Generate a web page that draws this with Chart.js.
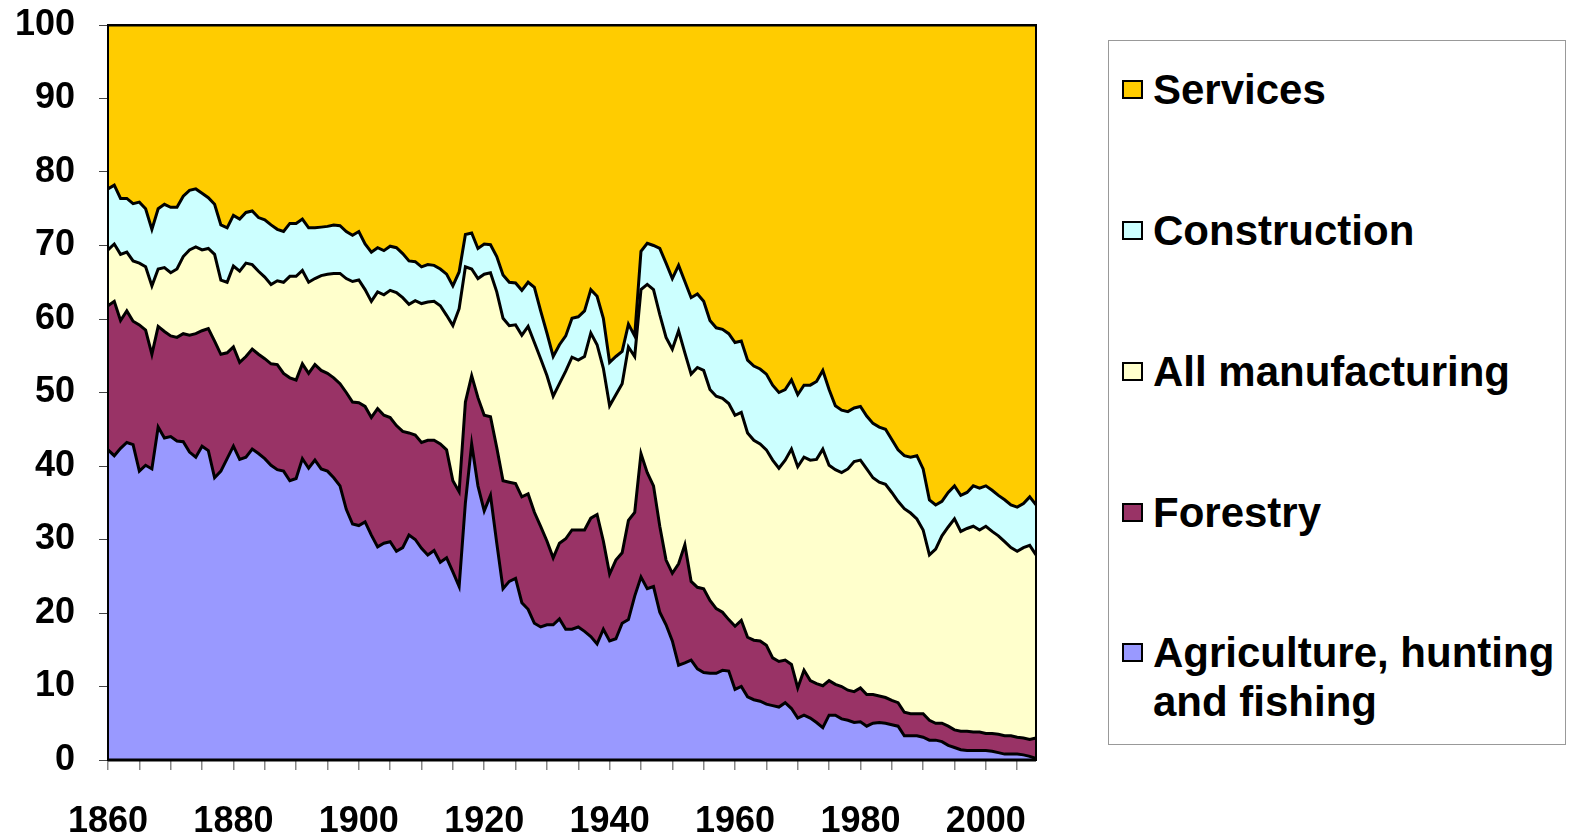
<!DOCTYPE html>
<html>
<head>
<meta charset="utf-8">
<script src="https://cdn.jsdelivr.net/npm/chart.js@4.4.1/dist/chart.umd.min.js"></script>
<style>
  body { margin: 0; background: #fff; }
  #wrap { position: relative; width: 1570px; height: 835px; }
  #legend {
    position: absolute; left: 1108px; top: 40px; width: 458px; height: 705px;
    box-sizing: border-box; border: 1px solid #999; background: #fff;
    font-family: "Liberation Sans", Arial, sans-serif; font-weight: bold; font-size: 42px; color: #000;
  }
  .item { position: absolute; left: 13px; line-height: 49px; white-space: pre-line; }
  .item .box { position: absolute; left: 0; top: 15px; width: 21px; height: 19px; box-sizing: border-box; border: 2px solid #000; }
  .item .txt { margin-left: 31px; display: block; }
</style>
</head>
<body>
<div id="wrap">
  <canvas id="share" width="1570" height="835"></canvas>
  <div id="legend"></div>
</div>
<script>
// years 1860 - 2008, one point per year
var years = [];
for (var yr = 1860; yr <= 2008; yr++) years.push(yr);

var xTickLabels = [1860, 1880, 1900, 1920, 1940, 1960, 1980, 2000];

// shares of employment, per cent
var agriculture = [
  42.2, 41.4, 42.4, 43.2, 42.9, 39.3, 40.1, 39.6, 45.3, 43.8,
  44.0, 43.4, 43.3, 41.9, 41.2, 42.7, 42.1, 38.4, 39.3, 41.0,
  42.7, 40.9, 41.2, 42.3, 41.7, 41.0, 40.1, 39.5, 39.3, 38.0,
  38.3, 41.0, 39.7, 40.8, 39.6, 39.3, 38.4, 37.3, 34.1, 32.1,
  31.9, 32.4, 30.6, 29.0, 29.5, 29.7, 28.4, 28.9, 30.6, 30.0,
  28.8, 27.9, 28.5, 26.9, 27.5, 25.6, 23.6, 35.0, 43.0, 37.3,
  33.9, 36.0, 29.5, 23.3, 24.3, 24.7, 21.4, 20.5, 18.6, 18.1,
  18.4, 18.4, 19.2, 17.8, 17.8, 18.1, 17.5, 16.8, 15.8, 17.8,
  16.2, 16.5, 18.6, 19.1, 22.3, 24.9, 23.3, 23.6, 20.1, 18.4,
  16.2, 12.9, 13.2, 13.6, 12.4, 11.9, 11.8, 11.8, 12.2, 12.1,
  9.6, 10.0, 8.6, 8.2, 8.0, 7.6, 7.4, 7.2, 7.8, 7.0,
  5.7, 6.1, 5.7, 5.1, 4.4, 6.1, 6.1, 5.6, 5.4, 5.1,
  5.2, 4.6, 5.0, 5.1, 5.0, 4.8, 4.6, 3.3, 3.3, 3.3,
  3.1, 2.7, 2.7, 2.5, 2.0, 1.7, 1.4, 1.3, 1.3, 1.3,
  1.3, 1.2, 1.0, 0.8, 0.8, 0.8, 0.7, 0.5, 0.2
];
var forestry = [
  19.6, 21.0, 17.4, 17.9, 16.8, 19.9, 18.4, 15.6, 13.7, 14.5,
  13.7, 14.1, 14.7, 15.9, 16.8, 15.7, 16.6, 18.6, 15.9, 14.4,
  13.5, 13.2, 13.7, 13.6, 13.5, 13.6, 13.8, 14.3, 13.3, 14.0,
  13.4, 12.9, 12.9, 13.0, 13.4, 13.3, 13.6, 13.9, 15.9, 16.6,
  16.7, 15.7, 16.0, 18.8, 17.4, 16.9, 17.1, 15.8, 13.9, 14.2,
  14.4, 15.6, 15.0, 16.1, 14.7, 12.4, 12.9, 13.7, 9.3, 12.0,
  13.0, 10.7, 13.0, 14.7, 13.5, 12.9, 14.4, 15.7, 15.1, 13.7,
  11.4, 9.1, 10.3, 12.3, 13.5, 13.2, 13.8, 16.1, 17.6, 12.0,
  9.1, 10.7, 9.6, 13.5, 11.4, 16.8, 15.8, 13.7, 11.7, 8.8,
  9.2, 13.8, 16.1, 10.7, 11.1, 11.4, 9.9, 8.8, 7.9, 7.0,
  8.6, 9.0, 8.1, 8.1, 8.2, 8.0, 6.5, 6.2, 5.8, 6.0,
  4.1, 6.1, 5.1, 5.3, 5.7, 4.7, 4.2, 4.4, 4.1, 4.2,
  4.6, 4.3, 3.9, 3.6, 3.5, 3.3, 3.2, 3.2, 3.0, 3.0,
  3.2, 2.7, 2.3, 2.5, 2.6, 2.4, 2.5, 2.6, 2.5, 2.5,
  2.3, 2.4, 2.5, 2.5, 2.5, 2.3, 2.3, 2.3, 2.8
];
var manufacturing = [
  7.6, 7.8, 9.0, 8.0, 8.2, 8.4, 8.6, 9.3, 7.8, 8.7,
  8.6, 9.3, 10.5, 11.6, 11.8, 11.0, 10.9, 11.8, 10.1, 9.6,
  11.0, 12.4, 12.7, 11.5, 11.3, 11.1, 10.8, 11.4, 12.4, 13.8,
  14.1, 12.7, 12.4, 11.7, 12.9, 13.5, 14.2, 15.0, 15.5, 16.4,
  16.7, 15.9, 15.8, 15.9, 16.4, 17.3, 18.1, 18.2, 17.5, 18.3,
  18.9, 18.8, 18.9, 18.8, 18.3, 21.1, 24.9, 18.4, 14.5, 16.2,
  19.2, 19.6, 21.2, 22.1, 21.3, 21.6, 22.0, 22.8, 23.1, 22.8,
  22.5, 22.0, 21.7, 22.8, 23.5, 23.1, 23.6, 25.2, 23.1, 23.5,
  22.9, 22.5, 23.0, 23.6, 21.2, 22.3, 25.6, 26.7, 28.8, 30.3,
  30.5, 31.7, 26.1, 28.2, 29.9, 29.7, 28.7, 28.9, 29.1, 29.4,
  28.7, 28.3, 27.8, 27.2, 26.8, 26.6, 26.9, 26.3, 27.2, 29.3,
  30.1, 29.0, 30.0, 30.5, 32.2, 29.3, 29.2, 29.1, 30.1, 31.3,
  31.0, 30.7, 29.5, 29.1, 29.0, 28.3, 27.4, 27.7, 27.3, 26.5,
  25.0, 22.5, 23.7, 25.5, 27.1, 28.7, 27.2, 27.6, 28.0, 27.5,
  28.2, 27.5, 27.0, 26.4, 25.6, 25.3, 25.9, 26.4, 24.9
];
var construction = [
  8.3, 8.0, 7.6, 7.3, 7.8, 8.3, 7.9, 7.7, 8.2, 8.6,
  8.9, 8.4, 8.2, 8.1, 7.9, 7.7, 6.9, 6.8, 7.5, 7.4,
  6.9, 7.1, 6.9, 7.3, 7.3, 7.8, 8.1, 7.0, 6.9, 7.2,
  7.2, 7.0, 7.4, 6.9, 6.6, 6.5, 6.6, 6.5, 6.4, 6.3,
  6.6, 6.2, 6.7, 6.0, 6.0, 6.0, 6.1, 6.0, 5.9, 5.3,
  5.0, 5.1, 4.9, 5.0, 5.6, 5.4, 5.0, 4.4, 4.9, 4.1,
  4.1, 3.8, 4.8, 5.9, 5.9, 5.7, 6.1, 6.0, 7.5, 6.5,
  5.8, 5.4, 5.3, 4.8, 5.3, 5.9, 6.2, 5.9, 6.6, 6.8,
  5.9, 5.2, 4.4, 3.1, 2.8, 5.2, 5.6, 6.0, 9.0, 10.1,
  9.6, 8.9, 9.7, 10.4, 10.0, 9.4, 9.4, 9.3, 9.4, 9.5,
  9.9, 9.7, 9.9, 10.1, 10.2, 10.3, 10.2, 10.3, 9.6, 9.4,
  9.8, 9.8, 10.2, 10.6, 10.7, 10.3, 8.7, 8.5, 7.8, 7.3,
  7.3, 7.2, 7.4, 7.5, 7.5, 7.2, 7.0, 7.2, 7.6, 8.6,
  8.3, 7.5, 6.0, 4.7, 4.7, 4.5, 4.9, 4.9, 5.5, 5.7,
  5.5, 5.6, 5.5, 5.7, 5.8, 6.0, 6.0, 6.6, 6.8
];
var services = [
  22.3, 21.8, 23.6, 23.6, 24.3, 24.1, 25.0, 27.8, 25.0, 24.4,
  24.8, 24.8, 23.3, 22.5, 22.3, 22.9, 23.5, 24.4, 27.2, 27.6,
  25.9, 26.4, 25.5, 25.3, 26.2, 26.5, 27.2, 27.8, 28.1, 27.0,
  27.0, 26.4, 27.6, 27.6, 27.5, 27.4, 27.2, 27.3, 28.1, 28.6,
  28.1, 29.8, 30.9, 30.3, 30.7, 30.1, 30.3, 31.1, 32.1, 32.2,
  32.9, 32.6, 32.7, 33.2, 33.9, 35.5, 33.6, 28.5, 28.3, 30.4,
  29.8, 29.9, 31.5, 34.0, 35.0, 35.1, 36.1, 35.0, 35.7, 38.9,
  41.9, 45.1, 43.5, 42.3, 39.9, 39.7, 38.9, 36.0, 36.9, 39.9,
  45.9, 45.1, 44.4, 40.7, 42.3, 30.8, 29.7, 30.0, 30.4, 32.4,
  34.5, 32.7, 34.9, 37.1, 36.6, 37.6, 40.2, 41.2, 41.4, 42.0,
  43.2, 43.0, 45.6, 46.4, 46.8, 47.5, 49.0, 50.0, 49.6, 48.3,
  50.3, 49.0, 49.0, 48.5, 47.0, 49.6, 51.8, 52.4, 52.6, 52.1,
  51.9, 53.2, 54.2, 54.7, 55.0, 56.4, 57.8, 58.6, 58.8, 58.6,
  60.4, 64.6, 65.3, 64.8, 63.6, 62.7, 64.0, 63.6, 62.7, 63.0,
  62.7, 63.3, 64.0, 64.6, 65.3, 65.6, 65.1, 64.2, 65.3
];

var font = "'Liberation Sans', Arial, sans-serif";

function area(label, data, color, fill) {
  return {
    label: label,
    data: data,
    backgroundColor: color,
    borderColor: '#000',
    borderWidth: 3,
    fill: fill,
    pointRadius: 0,
    tension: 0
  };
}

var frame = {
  id: 'frame',
  afterDatasetsDraw: function (chart) {
    var a = chart.chartArea, c = chart.ctx;
    c.save();
    c.strokeStyle = '#000';
    c.lineWidth = 2;
    c.strokeRect(a.left, a.top, a.right - a.left, a.bottom - a.top);
    c.lineWidth = 3;
    c.beginPath();
    c.moveTo(a.left, a.bottom);
    c.lineTo(a.right, a.bottom);
    c.stroke();
    c.restore();
  }
};

var shareChart = new Chart(document.getElementById('share').getContext('2d'), {
  type: 'line',
  data: {
    labels: years,
    datasets: [
      area('Agriculture, hunting\nand fishing', agriculture, '#9999FF', 'origin'),
      area('Forestry', forestry, '#993366', '-1'),
      area('All manufacturing', manufacturing, '#FFFFCC', '-1'),
      area('Construction', construction, '#CCFFFF', '-1'),
      area('Services', services, '#FFCC00', '-1')
    ]
  },
  options: {
    responsive: false,
    animation: false,
    layout: { padding: { top: 25, right: 534, left: 0, bottom: 0 } },
    plugins: { legend: { display: false }, tooltip: { enabled: false } },
    scales: {
      x: {
        afterFit: function (s) { s.height = 75; },
        grid: {
          drawOnChartArea: false,
          tickLength: 10,
          lineWidth: 1.5,
          color: function (ctx) { return years[ctx.index] % 5 === 0 ? '#888' : 'rgba(0,0,0,0)'; }
        },
        border: { display: false },
        ticks: {
          autoSkip: false,
          maxRotation: 0,
          padding: 30,
          color: '#000',
          font: { family: font, size: 36, weight: 'bold' },
          callback: function (v, i) {
            return xTickLabels.indexOf(years[i]) >= 0 ? String(years[i]) : '';
          }
        }
      },
      y: {
        stacked: true,
        min: 0,
        max: 100,
        afterFit: function (s) { s.width = 108; s.paddingTop = 0; s.paddingBottom = 0; },
        grid: { drawOnChartArea: false, tickLength: 9, color: '#444' },
        border: { display: false },
        ticks: {
          stepSize: 10,
          padding: 24,
          color: '#000',
          font: { family: font, size: 36, weight: 'bold' }
        }
      }
    }
  },
  plugins: [frame]
});

// legend, top item first like the reference
var legend = document.getElementById('legend');
var centres = [48, 189, 330, 471, 611];
shareChart.data.datasets.slice().reverse().forEach(function (ds, i) {
  var item = document.createElement('div');
  item.className = 'item';
  item.style.top = (centres[i] - 24.5) + 'px';
  var box = document.createElement('span');
  box.className = 'box';
  box.style.background = ds.backgroundColor;
  var txt = document.createElement('span');
  txt.className = 'txt';
  txt.textContent = ds.label;
  item.appendChild(box);
  item.appendChild(txt);
  legend.appendChild(item);
});
</script>
</body>
</html>
